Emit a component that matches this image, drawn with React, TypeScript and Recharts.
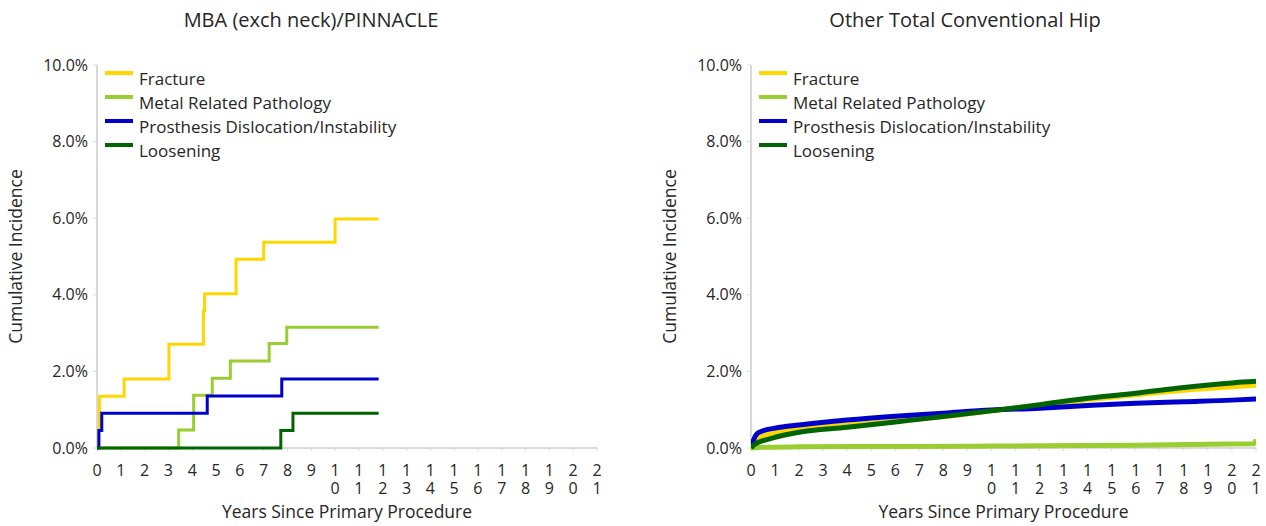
import React from "react";
import { LineChart, Line, XAxis, YAxis, Legend } from "recharts";

// years since primary procedure, cumulative incidence (%)
const xTicks = [0, 1, 2, 3, 4, 5, 6, 7, 8, 9, 10, 11, 12, 13, 14, 15, 16, 17, 18, 19, 20, 21];
const yTicks = [0, 2, 4, 6, 8, 10];

const seriesNames = [
  "Fracture",
  "Metal Related Pathology",
  "Prosthesis Dislocation/Instability",
  "Loosening",
];
const seriesColors = ["#FFD700", "#9ACD32", "#0000CD", "#006400"];

// MBA (exch neck)/PINNACLE - step curves [year, %]
const leftFracture = [
  [0, 0], [0.05, 0.45], [0.1, 1.35], [1.14, 1.8], [3.02, 2.71], [4.47, 3.58],
  [4.52, 4.03], [5.84, 4.93], [7.0, 5.37], [10.0, 5.98], [11.83, 5.98],
];
const leftMetal = [
  [0, 0], [3.43, 0.47], [4.06, 1.38], [4.84, 1.82], [5.6, 2.27], [7.23, 2.73],
  [7.97, 3.15], [11.83, 3.15],
];
const leftDislocation = [
  [0, 0], [0.08, 0.46], [0.2, 0.91], [4.63, 1.36], [7.76, 1.8], [11.83, 1.8],
];
const leftLoosening = [
  [0, 0], [7.72, 0.46], [8.23, 0.91], [11.83, 0.91],
];

// Other Total Conventional Hip [year, %]
const rightFracture = [
  [0, 0], [0.1, 0.12], [0.25, 0.22], [0.5, 0.32], [1, 0.41], [2, 0.5], [4, 0.6],
  [6, 0.7], [8, 0.82], [10, 0.97], [12, 1.11], [14, 1.26], [16, 1.39],
  [18, 1.51], [20, 1.6], [21, 1.64],
];
const rightMetal = [
  [0, 0], [0.5, 0.02], [2, 0.03], [6, 0.04], [10, 0.05], [12, 0.06], [16, 0.07],
  [18, 0.09], [19, 0.1], [20.9, 0.11], [21, 0.22],
];
const rightDislocation = [
  [0, 0], [0.1, 0.2], [0.25, 0.37], [0.5, 0.45], [1, 0.52], [2, 0.6], [4, 0.73],
  [6, 0.83], [8, 0.91], [10, 0.99], [12, 1.04], [14, 1.11], [16, 1.17],
  [18, 1.21], [20, 1.25], [21, 1.28],
];
const rightLoosening = [
  [0, 0], [0.1, 0.07], [0.25, 0.13], [0.5, 0.19], [1, 0.28], [2, 0.41], [4, 0.54],
  [6, 0.68], [8, 0.82], [10, 0.97], [12, 1.13], [14, 1.3], [16, 1.43],
  [18, 1.58], [20, 1.7], [21, 1.74],
];

const FONT = "'Open Sans', 'Noto Sans', sans-serif";
const TEXT = "#262626";
const AXIS = "#D9D9D9";

const toRows = (pts: number[][]) => pts.map(([t, v]) => ({ t, v }));

function XTick({ x, y, payload }: any) {
  const chars = String(payload.value).split("");
  return (
    <text x={x} y={y} textAnchor="middle" fill={TEXT} fontSize={16} fontFamily={FONT}>
      {chars.map((c, i) => (
        <tspan key={i} x={x} dy={i === 0 ? 23 : 17.6}>
          {c}
        </tspan>
      ))}
    </text>
  );
}

function LegendBox() {
  return (
    <div style={{ fontFamily: FONT, fontSize: 17, color: TEXT }}>
      {seriesNames.map((name, i) => (
        <div key={name} style={{ position: "relative", height: 24, whiteSpace: "nowrap" }}>
          <div
            style={{ position: "absolute", left: 0, top: 9, width: 28, height: 4, background: seriesColors[i] }}
          />
          <div style={{ position: "absolute", left: 34, top: 5, lineHeight: "24px" }}>{name}</div>
        </div>
      ))}
    </div>
  );
}

interface PanelProps {
  title: string;
  left: number;
  width: number;
  axisWidth: number;
  rightMargin: number;
  titleX: number;
  yLabelX: number;
  stepped: boolean;
  strokeWidth: number;
  series: number[][][];
}

function Panel({ title, left, width, axisWidth, rightMargin, titleX, yLabelX, stepped, strokeWidth, series }: PanelProps) {
  return (
    <div style={{ position: "absolute", left, top: 0, width, height: 526 }}>
      <div
        style={{
          position: "absolute",
          left: titleX - 200,
          width: 400,
          top: 6,
          textAlign: "center",
          fontFamily: FONT,
          fontSize: 20,
          color: TEXT,
          lineHeight: "28px",
        }}
      >
        {title}
      </div>
      <LineChart width={width} height={526} margin={{ top: 65, right: rightMargin, bottom: 0, left: 0 }}>
        <XAxis
          type="number"
          dataKey="t"
          domain={[0, 21]}
          ticks={xTicks}
          interval={0}
          height={78}
          allowDataOverflow
          stroke={AXIS}
          axisLine={{ stroke: AXIS, strokeWidth: 2 }}
          tickLine={{ stroke: AXIS }}
          tickSize={3}
          tick={<XTick />}
          label={{
            value: "Years Since Primary Procedure",
            position: "insideBottom",
            offset: 8,
            fill: TEXT,
            fontSize: 17.5,
            fontFamily: FONT,
          }}
        />
        <YAxis
          type="number"
          domain={[0, 10]}
          ticks={yTicks}
          width={axisWidth}
          stroke={AXIS}
          axisLine={{ stroke: AXIS, strokeWidth: 2 }}
          tickLine={{ stroke: AXIS }}
          tickSize={4}
          tickMargin={5}
          tick={{ fill: TEXT, fontSize: 16, fontFamily: FONT }}
          tickFormatter={(v: number) => `${v.toFixed(1)}%`}
          label={{
            value: "Cumulative Incidence",
            angle: -90,
            position: "insideLeft",
            offset: yLabelX,
            fill: TEXT,
            fontSize: 17.5,
            fontFamily: FONT,
            style: { textAnchor: "middle" },
          }}
        />
        <Legend
          layout="vertical"
          align="center"
          verticalAlign="middle"
          wrapperStyle={{ top: 62, left: axisWidth + 8, width: 340 }}
          content={<LegendBox />}
        />
        {series.map((pts, i) => (
          <Line
            key={seriesNames[i]}
            data={toRows(pts)}
            dataKey="v"
            name={seriesNames[i]}
            type={stepped ? "stepAfter" : "monotone"}
            stroke={seriesColors[i]}
            strokeWidth={strokeWidth}
            dot={false}
            activeDot={false}
            zIndex={600 + i}
            isAnimationActive={false}
          />
        ))}
      </LineChart>
    </div>
  );
}

export default function App() {
  return (
    <div style={{ position: "fixed", left: 0, top: 0, width: 1266, height: 526, background: "#fff" }}>
      <Panel
        title="MBA (exch neck)/PINNACLE"
        left={0}
        width={633}
        axisWidth={97}
        rightMargin={36}
        titleX={311}
        yLabelX={16}
        stepped
        strokeWidth={3}
        series={[leftFracture, leftMetal, leftDislocation, leftLoosening]}
      />
      <Panel
        title="Other Total Conventional Hip"
        left={633}
        width={633}
        axisWidth={118}
        rightMargin={10}
        titleX={332}
        yLabelX={37}
        stepped={false}
        strokeWidth={5}
        series={[rightFracture, rightMetal, rightDislocation, rightLoosening]}
      />
    </div>
  );
}
